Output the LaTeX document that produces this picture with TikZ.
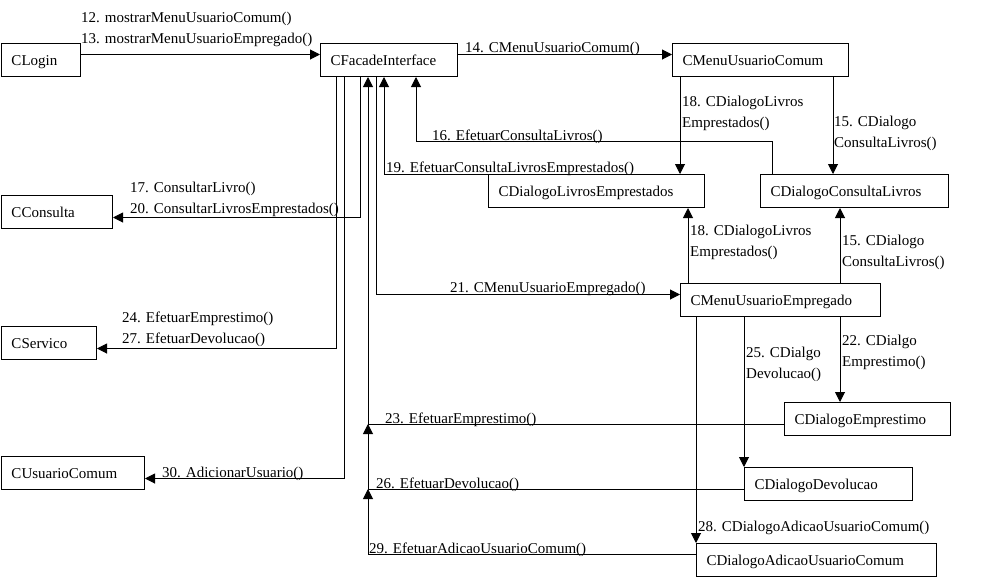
\documentclass[tikz,border=0pt]{standalone}
\usepackage{fontspec}
\setmainfont{Liberation Serif}
\usetikzlibrary{arrows.meta, positioning}

\begin{document}
\begin{tikzpicture}[x=1pt, y=-1pt,
    box/.style={draw, line width=1pt, anchor=north west, minimum height=33pt,
                align=left, inner xsep=10pt, inner ysep=0pt,
                text height=12pt, text depth=1pt, font=\fontsize{15}{20}\selectfont},
    lbl/.style={inner sep=0pt, align=left, anchor=base west,
                font=\fontsize{15}{20.5}\selectfont},
    arr/.style={-{Triangle[length=10pt, width=10pt]}, line width=1pt}
  ]
    \useasboundingbox[fill=white] (0,0) rectangle (986,579);

    \node[box, text width=59pt]  (login)    at (1,43)    {CLogin};
    \node[box, text width=117pt] (facade)   at (320,43)  {CFacadeInterface};
    \node[box, text width=156pt] (menuc)    at (672,43)  {CMenuUsuarioComum};
    \node[box, text width=196pt] (dle)      at (488,174) {CDialogoLivrosEmprestados};
    \node[box, text width=168pt] (dcl)      at (760,174) {CDialogoConsultaLivros};
    \node[box, text width=91pt]  (consulta) at (1,195)   {CConsulta};
    \node[box, text width=180pt] (menue)    at (680,283) {CMenuUsuarioEmpregado};
    \node[box, text width=75pt]  (servico)  at (1,326)   {CServico};
    \node[box, text width=146pt] (demp)     at (784,402) {CDialogoEmprestimo};
    \node[box, text width=123pt] (usuario)  at (1,456)   {CUsuarioComum};
    \node[box, text width=148pt] (ddev)     at (744,467) {CDialogoDevolucao};
    \node[box, text width=220pt] (dadd)     at (696,543) {CDialogoAdicaoUsuarioComum};

    \coordinate (j23) at (368,424);
    \coordinate (j26) at (368,489);

    \draw[arr] ([yshift=5.5pt]login.east) -- ([yshift=5.5pt]facade.west);
    \draw[arr] ([yshift=5.5pt]facade.east) -- ([yshift=5.5pt]menuc.west);
    \draw[arr] ([xshift=8pt]menuc.south west) -- ([xshift=8pt]menuc.south west |- dle.north);
    \draw[arr] ([xshift=-16pt]menuc.south east) -- ([xshift=-16pt]menuc.south east |- dcl.north);
    \draw[arr] ([xshift=12pt]dcl.north west) -- ++(0,-33) -| ([xshift=96pt]facade.south west);
    \draw[arr] (dle.north west) -| ([xshift=64pt]facade.south west);
    \draw[arr] ([xshift=40pt]facade.south west) |- ([yshift=-5.5pt]consulta.east);
    \draw[arr] ([xshift=16pt]facade.south west) |- ([yshift=-5.5pt]servico.east);
    \draw[arr] ([xshift=24pt]facade.south west) |- ([yshift=-5.5pt]usuario.east);
    \draw[arr] ([xshift=56pt]facade.south west) |- ([yshift=5.5pt]menue.west);
    \draw[arr] ([xshift=8pt]menue.north west) -- ([xshift=8pt]menue.north west |- dle.south);
    \draw[arr] ([xshift=160pt]menue.north west) -- ([xshift=160pt]menue.north west |- dcl.south);
    \draw[arr] ([xshift=160pt]menue.south west) -- ([xshift=160pt]menue.south west |- demp.north);
    \draw[arr] ([xshift=64pt]menue.south west) -- ([xshift=64pt]menue.south west |- ddev.north);
    \draw[arr] ([xshift=16pt]menue.south west) -- ([xshift=16pt]menue.south west |- dadd.north);
    \draw[arr] ([yshift=-5.5pt]demp.west) -| ([xshift=48pt]facade.south west);
    \draw[arr] ([yshift=-5.5pt]ddev.west) -| (j23);
    \draw[arr] ([yshift=5.5pt]dadd.west) -| (j26);

    \node[lbl] (l1213) at (81,43)  {12. mostrarMenuUsuarioComum()\\13. mostrarMenuUsuarioEmpregado()};
    \node[lbl] (l14)   at (465,52) {14. CMenuUsuarioComum()};
    \node[lbl] (l18a)  at (682,127) {18. CDialogoLivros\\Emprestados()};
    \node[lbl] (l15a)  at (834,147) {15. CDialogo\\ConsultaLivros()};
    \node[lbl] (l16)   at (432,140) {16. EfetuarConsultaLivros()};
    \node[lbl] (l19)   at (386,172) {19. EfetuarConsultaLivrosEmprestados()};
    \node[lbl] (l1720) at (130,213) {17. ConsultarLivro()\\20. ConsultarLivrosEmprestados()};
    \node[lbl] (l18b)  at (690,256) {18. CDialogoLivros\\Emprestados()};
    \node[lbl] (l15b)  at (842,266) {15. CDialogo\\ConsultaLivros()};
    \node[lbl] (l21)   at (450,292) {21. CMenuUsuarioEmpregado()};
    \node[lbl] (l2427) at (122,343) {24. EfetuarEmprestimo()\\27. EfetuarDevolucao()};
    \node[lbl] (l22)   at (842,366) {22. CDialgo\\Emprestimo()};
    \node[lbl] (l25)   at (746,378) {25. CDialgo\\Devolucao()};
    \node[lbl] (l23)   at (385,423) {23. EfetuarEmprestimo()};
    \node[lbl] (l30)   at (162,477) {30. AdicionarUsuario()};
    \node[lbl] (l26)   at (376,488) {26. EfetuarDevolucao()};
    \node[lbl] (l28)   at (698,531) {28. CDialogoAdicaoUsuarioComum()};
    \node[lbl] (l29)   at (369,553) {29. EfetuarAdicaoUsuarioComum()};
\end{tikzpicture}
\end{document}
